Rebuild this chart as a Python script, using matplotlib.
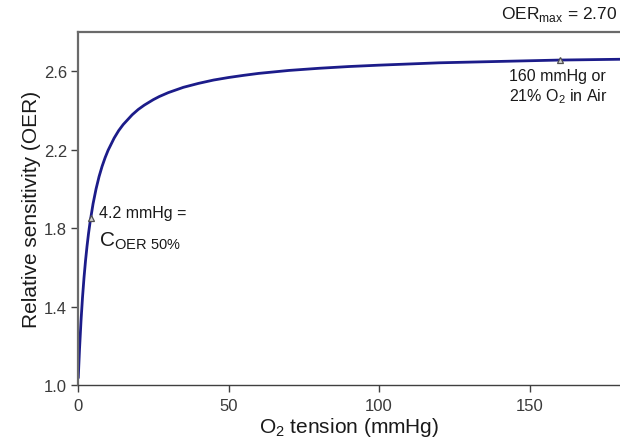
import matplotlib
matplotlib.use("Agg")
import matplotlib.pyplot as plt

plt.rcParams['font.family'] = ['Liberation Sans', 'DejaVu Sans']
plt.rcParams['mathtext.fontset'] = 'custom'
plt.rcParams['mathtext.rm'] = 'Liberation Sans'

# O2 tension (mmHg) and OER values
o2_tension = [0.1, 0.5, 1, 1.5, 2, 2.5, 3, 3.5, 4, 5, 6, 7, 8, 9, 10, 12,
              13.5, 15, 18, 20, 22, 25, 27, 30, 35, 40, 45, 50, 55, 60, 70,
              80, 90, 100, 120, 140, 160, 180]
oer = [1.040, 1.181, 1.327, 1.447, 1.548, 1.634, 1.708, 1.773, 1.829, 1.924,
       2.000, 2.063, 2.115, 2.159, 2.197, 2.259, 2.297, 2.328, 2.378, 2.405,
       2.427, 2.455, 2.471, 2.491, 2.518, 2.538, 2.555, 2.568, 2.579, 2.589,
       2.604, 2.615, 2.624, 2.631, 2.643, 2.650, 2.657, 2.661]

# marked points
mark_x = [4.2, 160]
mark_y = [1.85, 2.657]

x_ticks = [0, 50, 100, 150]
y_ticks = [1.0, 1.4, 1.8, 2.2, 2.6]

fig = plt.figure(figsize=(6.2, 4.39), dpi=100)
ax = fig.add_axes([0.1258, 0.1207, 0.8742, 0.8041])

ax.plot(o2_tension, oer, color='#1c1c8a', lw=2.0, zorder=2)
ax.plot(mark_x, mark_y, ls='none', marker='^', ms=5, mfc='#d0d0d0',
        mec='#505050', mew=0.9, zorder=3)

ax.set_xlim(0, 180)
ax.set_ylim(1.0, 2.8)
ax.set_xticks(x_ticks)
ax.set_yticks(y_ticks)
ax.set_yticklabels(['%.1f' % v for v in y_ticks])

ax.spines['right'].set_visible(False)
for s in ['left', 'top']:
    ax.spines[s].set_color('#6a6a6a')
    ax.spines[s].set_linewidth(1.6)
ax.spines['bottom'].set_color('#404040')
ax.spines['bottom'].set_linewidth(1.0)
ax.tick_params(axis='both', direction='out', length=5, width=1.0,
               color='#404040', labelsize=12, labelcolor='#3a3a3a')
ax.tick_params(axis='x', pad=4)
ax.tick_params(axis='y', pad=3)

ax.set_xlabel(r'O$_2$ tension (mmHg)', fontsize=15, color='#1a1a1a', labelpad=2)
ax.set_ylabel('Relative sensitivity (OER)', fontsize=15, color='#1a1a1a', labelpad=2)

fig.text(0.995, 0.966, r'OER$_{\mathrm{max}}$ = 2.70', ha='right', va='center',
         fontsize=12.5, color='#1a1a1a')

ax.text(7.0, 1.88, '4.2 mmHg =', fontsize=11.5, color='#1a1a1a', va='center')
ax.text(7.0, 1.74, r'C$_{\mathrm{OER\ 50\%}}$', fontsize=15, color='#1a1a1a',
        va='center')

ax.text(143, 2.58, '160 mmHg or', fontsize=11.5, color='#1a1a1a', va='center')
ax.text(143, 2.475, r'21% O$_2$ in Air', fontsize=11.5, color='#1a1a1a',
        va='center')

fig.savefig('out.png', dpi=100)
